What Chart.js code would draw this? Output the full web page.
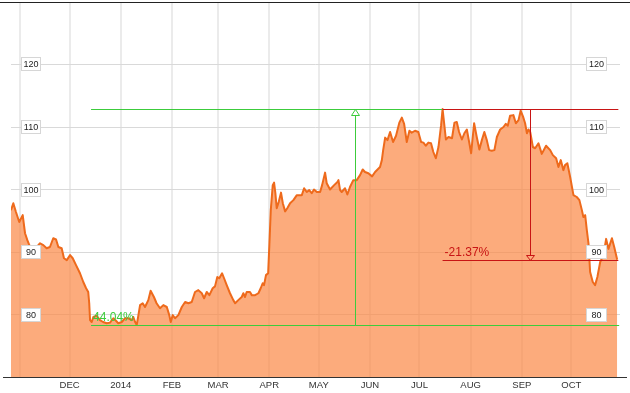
<!DOCTYPE html>
<html>
<head>
<meta charset="utf-8">
<script src="https://cdn.jsdelivr.net/npm/chart.js@4.4.1/dist/chart.umd.min.js"></script>
<style>
  html, body { margin: 0; padding: 0; background: #fff; }
  #wrap { width: 630px; height: 393px; position: relative; }
</style>
</head>
<body>
<div id="wrap"><canvas id="c" width="630" height="393"></canvas></div>
<script>
// ---- data (days since 1 Nov 2013, closing values) ----
const dayOffsets = [
  -5.5,-4.1,-2.5,-0.5,1.6,3.0,4.4,5.6,7.8,9.7,10.4,12.1,14.1,16.1,18.1,20.1,21.8,23.2,25.2,26.6,
  28.3,30.3,31.9,33.9,36.3,38.3,40.0,41.3,41.9,42.4,43.4,44.4,46.4,48.4,50.3,52.5,54.5,56.5,58.1,59.5,
  61.6,63.6,65.6,67.7,68.6,69.7,70.7,71.7,72.7,74.3,75.7,77.7,79.1,81.1,82.7,84.8,86.8,88.9,90.4,91.3,
  92.5,93.9,95.9,98.0,100.0,102.0,104.0,106.0,108.0,110.1,111.5,113.1,114.7,116.7,118.1,119.5,120.7,122.4,123.6,125.2,
  127.2,129.2,130.3,132.2,134.3,135.3,136.3,137.3,139.3,140.4,142.4,144.4,145.8,147.0,147.8,149.0,150.3,151.0,151.9,153.1,
  153.9,154.7,155.5,156.7,158.1,159.2,160.6,161.9,163.6,165.6,167.7,170.7,172.1,173.7,175.2,176.7,178.1,179.8,181.8,183.0,
  184.8,185.8,187.8,190.3,192.3,192.9,193.9,194.9,196.9,198.3,199.9,201.9,204.0,206.0,207.6,209.0,211.0,213.3,215.1,218.1,
  219.2,220.0,221.2,222.6,224.2,226.0,227.8,229.8,231.3,232.7,234.3,235.9,237.3,239.3,241.3,243.0,244.4,245.8,247.4,249.0,
  250.4,251.9,253.5,255.1,256.0,257.2,258.0,259.6,261.7,263.2,264.6,266.0,267.7,269.2,270.7,272.1,273.3,275.1,276.7,278.3,
  279.8,281.3,282.8,284.2,285.8,287.4,288.9,290.9,292.9,294.3,295.5,296.9,298.9,300.4,302.0,303.3,304.7,306.0,307.1,308.1,
  309.1,310.7,312.1,314.1,316.1,318.7,321.2,322.8,324.8,326.2,327.6,329.2,330.2,331.6,333.3,335.3,337.3,338.9,340.4,341.3,
  342.4,343.4,344.4,345.4,347.0,348.4,349.8,351.5,353.5,355.1,356.5,358.6,360.0,361.8
];
const closes = [
  96.7,97.8,96.4,94.8,95.9,93.0,91.9,91.1,90.3,90.0,90.9,91.4,91.1,90.6,90.8,92.2,92.0,90.8,90.6,89.0,
  88.7,89.5,89.0,87.9,86.6,85.2,84.2,83.6,81.8,79.1,78.8,79.6,79.8,79.1,78.8,78.6,78.7,79.4,79.0,78.6,
  78.8,79.4,79.4,79.1,79.6,78.8,78.33,79.9,81.5,81.8,81.2,82.3,83.8,82.8,81.8,81.0,81.5,81.2,79.9,78.8,
  79.9,79.4,79.9,81.2,82.0,81.8,82.0,83.6,83.9,83.4,82.6,83.6,83.1,84.2,84.5,86.0,85.8,86.6,85.8,84.7,
  83.4,82.3,81.8,82.3,82.8,83.4,82.8,83.6,83.6,83.1,83.1,83.4,84.2,85.0,84.7,86.3,86.6,90.9,96.7,100.7,
  101.1,99.4,97.0,98.0,99.5,97.8,96.5,97.0,97.8,98.3,99.1,99.1,100.2,99.6,99.9,99.4,100.0,99.6,99.6,100.7,
  102.7,101.0,100.0,100.7,101.2,101.5,99.9,99.6,100.2,99.2,100.4,101.5,101.5,102.3,103.2,102.8,102.6,102.1,102.8,103.6,
  104.7,106.3,108.3,107.9,109.2,107.6,108.6,110.7,111.5,110.5,107.6,109.4,109.1,109.4,109.2,107.6,107.5,107.0,107.5,107.4,
  106.0,105.0,106.8,110.3,112.88,110.0,108.0,108.4,108.2,110.7,110.8,109.2,108.0,109.0,109.6,107.6,105.8,110.6,108.4,106.4,
  107.9,109.2,107.9,106.3,106.2,106.3,108.4,109.6,110.0,110.5,110.2,111.8,111.9,110.6,111.1,112.6,111.7,110.6,109.0,109.6,
  109.2,106.8,106.6,107.4,105.7,107.0,106.3,105.5,105.0,103.6,104.7,103.1,103.9,104.2,102.0,99.1,98.8,98.3,96.7,95.6,
  95.9,93.5,91.4,86.8,85.2,84.7,86.0,88.4,89.5,92.1,90.5,92.2,90.8,88.76
];
const monthStartDays = [0, 30, 61, 92, 120, 151, 181, 212, 242, 273, 304, 334];
const monthLabels = ['', 'DEC', '2014', 'FEB', 'MAR', 'APR', 'MAY', 'JUN', 'JUL', 'AUG', 'SEP', 'OCT'];
const yTickValues = [80, 90, 100, 110, 120];
const yRange = [70, 130];
const xRange = [-5.5, 363.5];

// ---- annotation values ----
const riseValues = [78.33, 112.88];        // low, high of the rise
const riseDays = [43, 256, 203, 363];      // start, peak, arrow, right end
const riseLabel = '44.04%';
const dropValues = [112.88, 88.76];        // high, latest
const dropDays = [256, 309, 362.5];        // start, arrow, right end
const dropLabel = '-21.37%';

const GREEN = '#3ccc3c';
const RED = '#c81414';
const FONT = '"Liberation Sans", Arial, sans-serif';

const overlay = {
  id: 'overlay',
  afterDatasetsDraw(chart) {
    const { ctx, chartArea, scales: { x, y } } = chart;
    const px = d => x.getPixelForValue(d);
    const py = v => y.getPixelForValue(v);
    const c = p => Math.round(p) + 0.5;
    const seg = (x1, y1, x2, y2, color, w) => {
      ctx.save();
      ctx.strokeStyle = color; ctx.lineWidth = w || 1;
      ctx.beginPath(); ctx.moveTo(x1, y1); ctx.lineTo(x2, y2); ctx.stroke();
      ctx.restore();
    };
    const tri = (cx, tipY, baseY, color) => {
      ctx.save();
      ctx.strokeStyle = color; ctx.lineWidth = 1;
      ctx.beginPath();
      ctx.moveTo(cx, tipY); ctx.lineTo(cx - 4, baseY); ctx.lineTo(cx + 4, baseY); ctx.closePath();
      ctx.stroke();
      ctx.restore();
    };

    // green rise measure
    const gLow = c(py(riseValues[0])), gHigh = c(py(riseValues[1]));
    seg(px(riseDays[0]), gHigh, px(riseDays[1]), gHigh, GREEN);
    seg(px(riseDays[0]), gLow, px(riseDays[3]), gLow, GREEN);
    const gx = c(px(riseDays[2]));
    seg(gx, gLow, gx, gHigh + 6, GREEN);
    tri(gx, gHigh, gHigh + 6, GREEN);
    ctx.save();
    ctx.fillStyle = GREEN; ctx.font = '12px ' + FONT;
    ctx.textAlign = 'left'; ctx.textBaseline = 'alphabetic';
    ctx.fillText(riseLabel, px(riseDays[0]) + 2, gLow - 5);
    ctx.restore();

    // red drop measure
    const rHigh = c(py(dropValues[0])), rLow = c(py(dropValues[1]));
    seg(px(dropDays[0]), rHigh, px(dropDays[2]), rHigh, RED);
    seg(px(dropDays[0]), rLow, px(dropDays[2]), rLow, RED);
    const rx = c(px(dropDays[1]));
    seg(rx, rHigh, rx, rLow - 5, RED);
    tri(rx, rLow, rLow - 5, RED);
    ctx.save();
    ctx.fillStyle = RED; ctx.font = '12px ' + FONT;
    ctx.textAlign = 'left'; ctx.textBaseline = 'alphabetic';
    ctx.fillText(dropLabel, px(dropDays[0]) + 2, rLow - 5);
    ctx.restore();

    // frame lines
    seg(0, c(py(yRange[1])), chart.width, c(py(yRange[1])), '#222');
    seg(3, c(py(yRange[0])), chart.width - 3, c(py(yRange[0])), '#333');

    // y value boxes on both sides
    ctx.save();
    ctx.font = '9px ' + FONT;
    ctx.textAlign = 'center'; ctx.textBaseline = 'middle';
    yTickValues.forEach(v => {
      const yy = Math.round(py(v));
      [[chartArea.left + 10, 20], [chartArea.right - 34, 21]].forEach(([bx, bw]) => {
        ctx.fillStyle = '#fff';
        ctx.fillRect(bx, yy - 7, bw, 14);
        ctx.strokeStyle = '#d6d6d6'; ctx.lineWidth = 1;
        ctx.strokeRect(bx + 0.5, yy - 6.5, bw - 1, 13);
        ctx.fillStyle = '#222';
        ctx.fillText(String(v), bx + bw / 2, yy + 0.5);
      });
    });
    ctx.restore();
  }
};

new Chart(document.getElementById('c'), {
  type: 'line',
  data: {
    datasets: [{
      data: dayOffsets.map((d, i) => ({ x: d, y: closes[i] })),
      borderColor: '#ee6a1c',
      borderWidth: 2,
      backgroundColor: 'rgba(251,136,69,0.7)',
      fill: 'start',
      pointRadius: 0,
      tension: 0,
      borderJoinStyle: 'round'
    }]
  },
  options: {
    responsive: false,
    animation: false,
    devicePixelRatio: 1,
    layout: { padding: { left: 11, right: 10, top: 2, bottom: 0 } },
    plugins: { legend: { display: false }, tooltip: { enabled: false } },
    scales: {
      x: {
        type: 'linear',
        min: xRange[0], max: xRange[1],
        afterBuildTicks: axis => { axis.ticks = monthStartDays.map(v => ({ value: v })); },
        afterFit: axis => { axis.height = 16; },
        ticks: {
          autoSkip: false, maxRotation: 0, padding: 3,
          color: '#333', font: { family: FONT, size: 9.5 },
          callback: (v, i) => monthLabels[i]
        },
        grid: { color: '#ebebeb', lineWidth: 2, drawTicks: false },
        border: { display: false }
      },
      y: {
        min: yRange[0], max: yRange[1],
        ticks: { display: false, stepSize: 10 },
        grid: { color: '#d9d9d9', lineWidth: 1, drawTicks: false },
        border: { display: false }
      }
    }
  },
  plugins: [overlay]
});
</script>
</body>
</html>
